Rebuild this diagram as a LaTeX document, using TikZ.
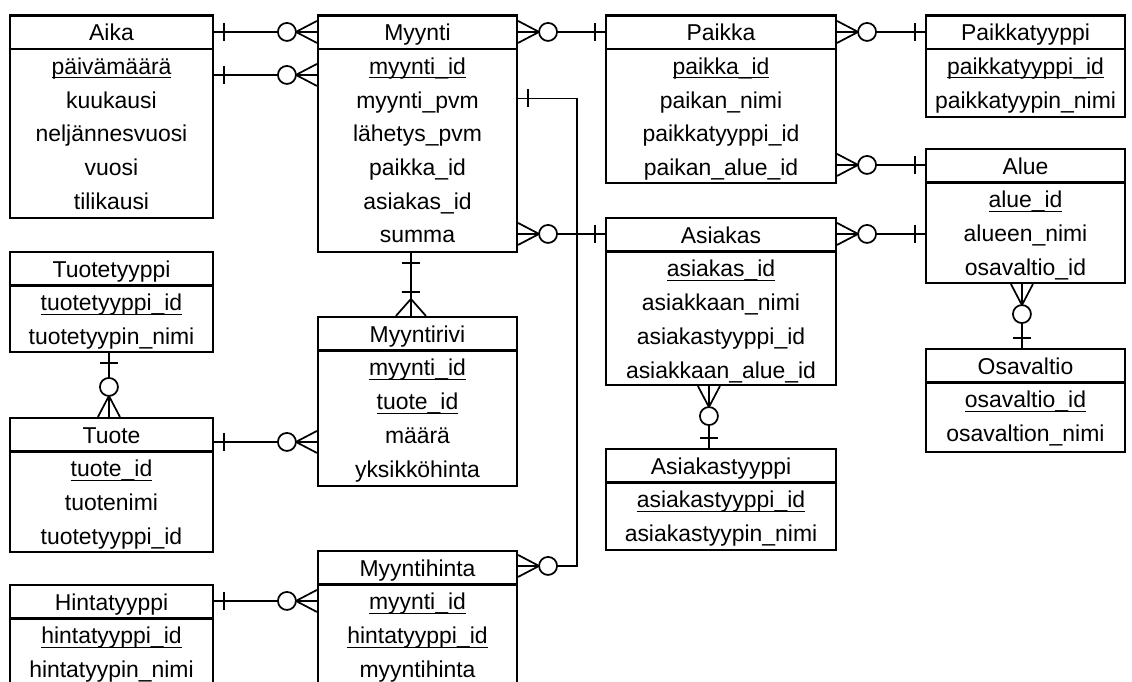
\documentclass[tikz,border=0pt]{standalone}
\usepackage{fontspec}
\setmainfont{Liberation Sans}
\usetikzlibrary{calc,fit}
\newcommand\ulx[1]{\sbox0{#1}\rlap{\rule[-3pt]{\wd0}{0.8pt}}\usebox0}
\tikzset{
 ebox/.style={draw, line width=1.6pt, inner sep=0pt},
 etxt/.style={font=\fontsize{17.2}{19}\selectfont, anchor=base, inner sep=0pt},
 conn/.style={line width=1.3pt},
 pics/crowO/.style={code={\draw[line width=1.3pt] (0,-11) -- (21,0) -- (0,11) (0,0) -- (21,0);
   \draw[line width=1.3pt, fill=white] (30,0) circle[radius=9];}},
 pics/crowI/.style={code={\draw[line width=1.3pt] (0,-15) -- (17,0) -- (0,15) (0,0) -- (17,0) (24,-9) -- (24,9);}},
 pics/one/.style={code={\draw[line width=1.3pt] (10,-9) -- (10,9);}},
}
\newcommand\ent[7]{%
 \coordinate (#1-nw) at (#2,#3);
 \coordinate (#1-se) at (#4,#5);
 \node[ebox, fit=(#1-nw)(#1-se)] (#1) {};
 \draw[line width=1.6pt] ($(#1.north west)+(0,34.5)$) -- ($(#1.north east)+(0,34.5)$);
 \node[etxt] (#1-title) at ($(#1.north)+(0,26.5)$) {#6};
 \foreach \t [count=\i] in {#7} {\node[etxt] (#1-\i) at ($(#1.north)+(0,60+33.7*\i-33.7)$) {\t};}
}
\begin{document}
\begin{tikzpicture}[x=0.75pt,y=-0.75pt]
\useasboundingbox (0,0) rectangle (1132,682);
\clip (0,0) rectangle (1132,682);
\ent{aika}{10}{15.5}{213}{218}{Aika}{\ulx{päivämäärä},kuukausi,neljännesvuosi,vuosi,tilikausi}
\ent{myynti}{318}{15.5}{517}{252}{Myynti}{\ulx{myynti\_id},myynti\_pvm,lähetys\_pvm,paikka\_id,asiakas\_id,summa}
\ent{paikka}{606}{15.5}{836}{183}{Paikka}{\ulx{paikka\_id},paikan\_nimi,paikkatyyppi\_id,paikan\_alue\_id}
\ent{paikkatyyppi}{926}{15.5}{1125}{117}{Paikkatyyppi}{\ulx{paikkatyyppi\_id},paikkatyypin\_nimi}
\ent{alue}{926}{149}{1125}{283}{Alue}{\ulx{alue\_id},alueen\_nimi,osavaltio\_id}
\ent{osavaltio}{926}{349}{1125}{452}{Osavaltio}{\ulx{osavaltio\_id},osavaltion\_nimi}
\ent{asiakas}{606}{218}{836}{385}{Asiakas}{\ulx{asiakas\_id},asiakkaan\_nimi,asiakastyyppi\_id,asiakkaan\_alue\_id}
\ent{asiakastyyppi}{606}{449}{836}{550}{Asiakastyyppi}{\ulx{asiakastyyppi\_id},asiakastyypin\_nimi}
\ent{tuotetyyppi}{10}{252}{213}{352}{Tuotetyyppi}{\ulx{tuotetyyppi\_id},tuotetyypin\_nimi}
\ent{tuote}{10}{418}{213}{552}{Tuote}{\ulx{tuote\_id},tuotenimi,tuotetyyppi\_id}
\ent{myyntirivi}{318}{317}{517}{486}{Myyntirivi}{\ulx{myynti\_id},\ulx{tuote\_id},määrä,yksikköhinta}
\ent{myyntihinta}{318}{551}{517}{690}{Myyntihinta}{\ulx{myynti\_id},\ulx{hintatyyppi\_id},myyntihinta}
\ent{hintatyyppi}{10}{585}{213}{690}{Hintatyyppi}{\ulx{hintatyyppi\_id},hintatyypin\_nimi}
% R1, R2 Aika - Myynti
\coordinate (r1a) at ($(aika.north east)+(0,17.5)$);
\coordinate (r1b) at (r1a -| myynti.west);
\draw[conn] (r1a) -- (r1b);
\pic at (r1a) {one}; \pic[rotate=180] at (r1b) {crowO};
\coordinate (r2a) at ($(aika.north east)+(0,60.5)$);
\coordinate (r2b) at (r2a -| myynti.west);
\draw[conn] (r2a) -- (r2b);
\pic at (r2a) {one}; \pic[rotate=180] at (r2b) {crowO};
% R3 Myynti - Paikka
\coordinate (r3a) at ($(myynti.north east)+(0,17.5)$);
\coordinate (r3b) at (r3a -| paikka.west);
\draw[conn] (r3a) -- (r3b);
\pic at (r3a) {crowO}; \pic[rotate=180] at (r3b) {one};
% R4 Paikka - Paikkatyyppi
\coordinate (r4a) at ($(paikka.north east)+(0,17.5)$);
\coordinate (r4b) at (r4a -| paikkatyyppi.west);
\draw[conn] (r4a) -- (r4b);
\pic at (r4a) {crowO}; \pic[rotate=180] at (r4b) {one};
% R5 Paikka - Alue
\coordinate (r5b) at ($(alue.north west)+(0,17)$);
\coordinate (r5a) at (r5b -| paikka.east);
\draw[conn] (r5a) -- (r5b);
\pic at (r5a) {crowO}; \pic[rotate=180] at (r5b) {one};
% R6 Myynti - Asiakas
\coordinate (r6b) at ($(asiakas.north west)+(0,17)$);
\coordinate (r6a) at (r6b -| myynti.east);
\draw[conn] (r6a) -- (r6b);
\pic at (r6a) {crowO}; \pic[rotate=180] at (r6b) {one};
% R7 Asiakas - Alue
\coordinate (r7a) at (r6b -| asiakas.east);
\coordinate (r7b) at (r7a -| alue.west);
\draw[conn] (r7a) -- (r7b);
\pic at (r7a) {crowO}; \pic[rotate=180] at (r7b) {one};
% R8 Myynti - Myyntirivi
\coordinate (r8a) at ($(myynti.south west)+(94,0)$);
\coordinate (r8b) at (r8a |- myyntirivi.north);
\draw[conn] (r8a) -- (r8b);
\pic[rotate=-90] at (r8a) {one}; \pic[rotate=90] at (r8b) {crowI};
% R9 Tuotetyyppi - Tuote
\coordinate (r9a) at ($(tuotetyyppi.south west)+(100,0)$);
\coordinate (r9b) at (r9a |- tuote.north);
\draw[conn] (r9a) -- (r9b);
\pic[rotate=-90] at (r9a) {one}; \pic[rotate=90] at (r9b) {crowO};
% R10 Tuote - Myyntirivi
\coordinate (r10b) at ($(myyntirivi.north west)+(0,126)$);
\coordinate (r10a) at (r10b -| tuote.east);
\draw[conn] (r10a) -- (r10b);
\pic at (r10a) {one}; \pic[rotate=180] at (r10b) {crowO};
% R11 Hintatyyppi - Myyntihinta
\coordinate (r11b) at ($(myyntihinta.north west)+(0,51)$);
\coordinate (r11a) at (r11b -| hintatyyppi.east);
\draw[conn] (r11a) -- (r11b);
\pic at (r11a) {one}; \pic[rotate=180] at (r11b) {crowO};
% R12 Myynti - Myyntihinta
\coordinate (r12a) at ($(myynti.north east)+(0,84)$);
\coordinate (r12c) at ($(myyntihinta.north east)+(0,16)$);
\coordinate (r12k1) at ($(r12a)+(59,0)$);
\coordinate (r12k2) at (r12k1 |- r12c);
\draw[conn] (r12a) -- (r12k1) -- (r12k2) -- (r12c);
\pic at (r12a) {one}; \pic at (r12c) {crowO};
% R13 Asiakas - Asiakastyyppi
\coordinate (r13a) at ($(asiakas.south west)+(104,0)$);
\coordinate (r13b) at (r13a |- asiakastyyppi.north);
\draw[conn] (r13a) -- (r13b);
\pic[rotate=-90] at (r13a) {crowO}; \pic[rotate=90] at (r13b) {one};
% R14 Alue - Osavaltio
\coordinate (r14a) at ($(alue.south west)+(97,0)$);
\coordinate (r14b) at (r14a |- osavaltio.north);
\draw[conn] (r14a) -- (r14b);
\pic[rotate=-90] at (r14a) {crowO}; \pic[rotate=90] at (r14b) {one};
\end{tikzpicture}
\end{document}
